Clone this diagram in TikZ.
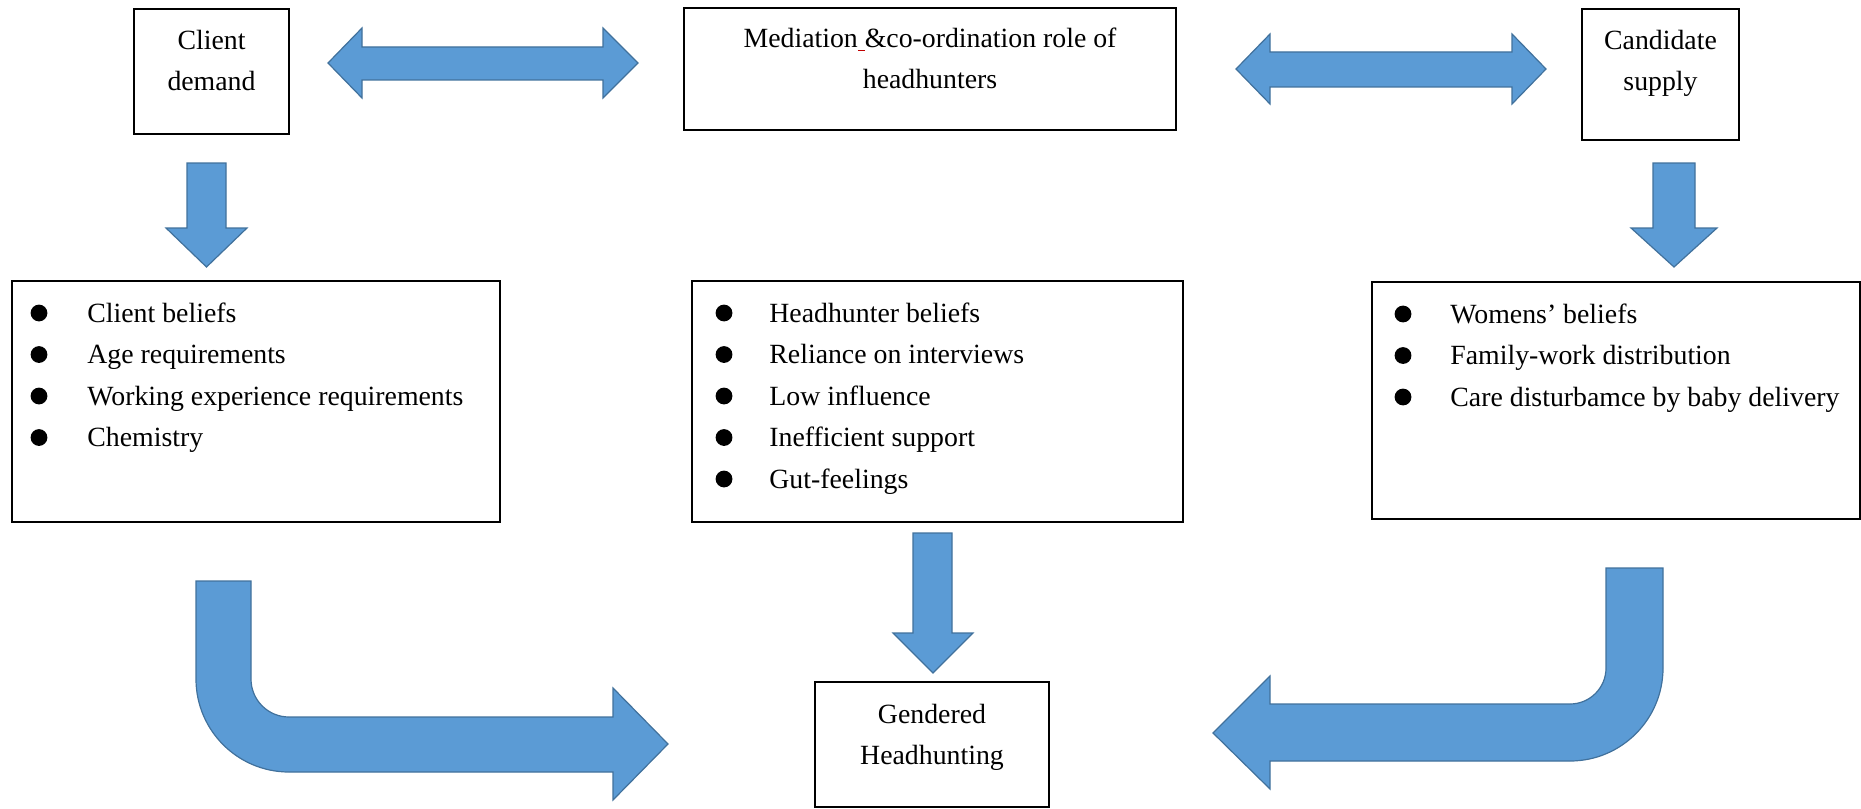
\documentclass[tikz,border=0pt]{standalone}
\usepackage{fontspec}
\setmainfont{Liberation Serif}
\usepackage{xcolor}
\usetikzlibrary{positioning, calc}

\definecolor{arrowfill}{HTML}{5B9BD5}
\definecolor{arrowedge}{HTML}{41719C}
\definecolor{spellred}{HTML}{C00000}
\newcommand{\pxu}{0.5pt}

\tikzset{
  box/.style={draw, line width=0.8pt, inner sep=0pt},
  boxtext/.style={align=center, inner sep=0pt, font=\fontsize{13.9}{20.5}\selectfont},
  itemtext/.style={anchor=base west, inner sep=0pt, font=\fontsize{13.9}{20.5}\selectfont},
  dot/.style={circle, fill, inner sep=0pt, minimum size=8.4pt},
  blockarrow/.style={fill=arrowfill, draw=arrowedge, line width=0.6pt, line join=miter},
}

\begin{document}
\begin{tikzpicture}[x=\pxu, y=-\pxu]
  \useasboundingbox (0,0) rectangle (1861,808);

  % top row
  \node[box, minimum width=155*\pxu, minimum height=125*\pxu] (client) at (211.5,71.5) {};
  \node[boxtext, below=11pt of client.north] (clienttxt) {Client\\demand};

  \node[box, minimum width=492*\pxu, minimum height=122*\pxu] (mediation) at (930,69) {};
  \node[boxtext, below=10pt of mediation.north] (mediationtxt)
    {Mediation\textcolor{spellred}{\underline{\ }}\&co-ordination role of\\headhunters};

  \node[box, minimum width=157*\pxu, minimum height=131*\pxu] (candidate) at (1660.5,74.5) {};
  \node[boxtext, below=11pt of candidate.north] (candidatetxt) {Candidate\\supply};

  % middle row
  \node[box, minimum width=488*\pxu, minimum height=241*\pxu] (clientlist) at (256,401.5) {};
  \node[box, minimum width=491*\pxu, minimum height=241*\pxu] (hhlist) at (937.5,401.5) {};
  \node[box, minimum width=488*\pxu, minimum height=237*\pxu] (womenlist) at (1616,400.5) {};

  \foreach \txt [count=\i from 0] in {Client beliefs, Age requirements,
      Working experience requirements, Chemistry} {
    \node[dot] (cldot\i) at (39,313+41.5*\i) {};
    \node[itemtext] (clitem\i) at (87,322+41.5*\i) {\txt};
  }
  \foreach \txt [count=\i from 0] in {Headhunter beliefs, Reliance on interviews,
      Low influence, Inefficient support, Gut-feelings} {
    \node[dot] (hhdot\i) at (724,313+41.5*\i) {};
    \node[itemtext] (hhitem\i) at (769,322+41.5*\i) {\txt};
  }
  \foreach \txt [count=\i from 0] in {Womens’ beliefs, Family-work distribution,
      Care disturbamce by baby delivery} {
    \node[dot] (wodot\i) at (1403,314+41.5*\i) {};
    \node[itemtext] (woitem\i) at (1450,323+41.5*\i) {\txt};
  }

  % bottom
  \node[box, minimum width=234*\pxu, minimum height=125*\pxu] (gendered) at (932,744.5) {};
  \node[boxtext, below=11.5pt of gendered.north] (genderedtxt) {Gendered\\Headhunting};

  % double arrows
  \draw[blockarrow] (328,63) -- (362,28) -- (362,47) -- (603,47) -- (603,28) -- (638,63)
    -- (603,98) -- (603,80) -- (362,80) -- (362,98) -- cycle;
  \draw[blockarrow] (1236,69) -- (1270,34) -- (1270,52) -- (1512,52) -- (1512,34) -- (1546,69)
    -- (1512,104) -- (1512,87) -- (1270,87) -- (1270,104) -- cycle;

  % down arrows
  \draw[blockarrow] (187,163) -- (226,163) -- (226,228) -- (247,228) -- (206.5,267)
    -- (166,228) -- (187,228) -- cycle;
  \draw[blockarrow] (1653,163) -- (1695,163) -- (1695,228) -- (1717,228) -- (1674,267)
    -- (1631,228) -- (1653,228) -- cycle;
  \draw[blockarrow] (913,533) -- (952,533) -- (952,633) -- (973,633) -- (933,673)
    -- (893,633) -- (913,633) -- cycle;

  % bent arrows
  \draw[blockarrow] (196,581) -- (251,581) -- (251,679)
    arc[start angle=180, end angle=270, radius=19pt] -- (613,717) -- (613,688)
    -- (668,744) -- (613,800) -- (613,772) -- (289,772)
    arc[start angle=270, end angle=180, radius=46.5pt] -- cycle;
  \draw[blockarrow] (1663,568) -- (1606,568) -- (1606,668)
    arc[start angle=0, end angle=-90, radius=18pt] -- (1270,704) -- (1270,676)
    -- (1213,733) -- (1270,789) -- (1270,761) -- (1570,761)
    arc[start angle=270, end angle=360, radius=46.5pt] -- cycle;
\end{tikzpicture}
\end{document}
